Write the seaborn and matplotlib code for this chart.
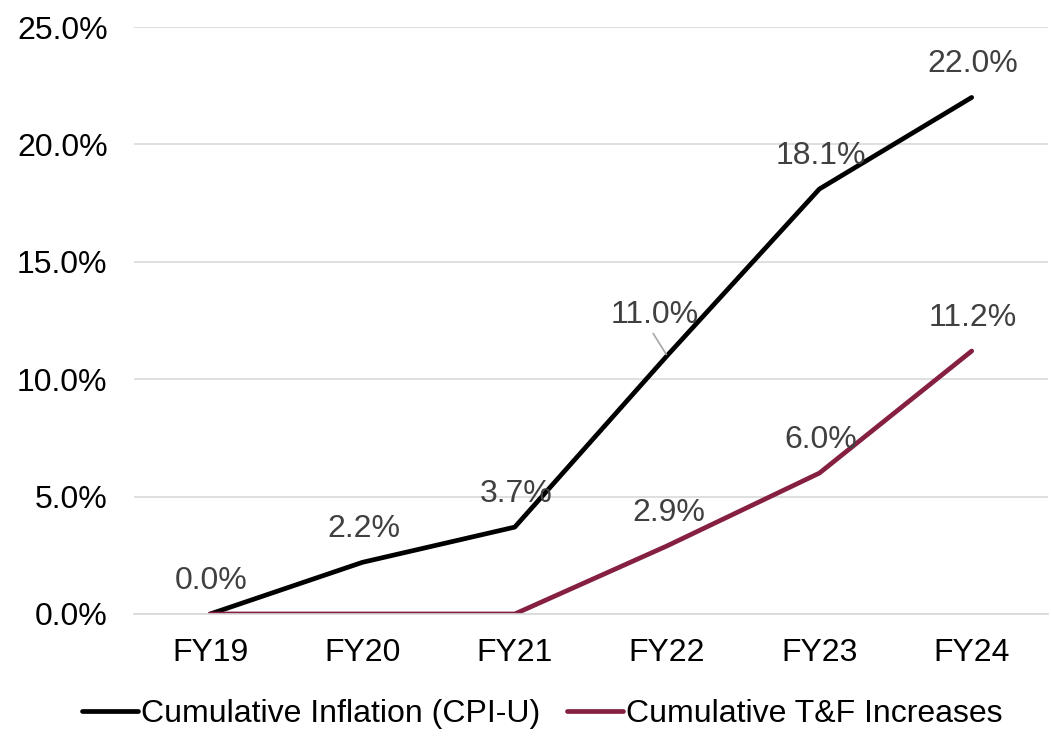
import matplotlib
matplotlib.use("Agg")
import matplotlib.pyplot as plt
import seaborn as sns
import pandas as pd
from matplotlib.ticker import FuncFormatter

years = ["FY19", "FY20", "FY21", "FY22", "FY23", "FY24"]
cpi = [0.0, 2.2, 3.7, 11.0, 18.1, 22.0]
tf = [0.0, 0.0, 0.0, 2.9, 6.0, 11.2]
cpi_name = "Cumulative Inflation (CPI-U)"
tf_name = "Cumulative T&F Increases"
cpi_labels = ["0.0%", "2.2%", "3.7%", "11.0%", "18.1%", "22.0%"]
tf_labels = [None, None, None, "2.9%", "6.0%", "11.2%"]

sns.set_theme(style="white")
plt.rcParams["font.family"] = ["Liberation Sans", "DejaVu Sans"]

df = pd.DataFrame({
    "Year": years * 2,
    "Value": cpi + tf,
    "Series": [cpi_name] * len(years) + [tf_name] * len(years),
})

FS = 23
fig = plt.figure(figsize=(10.51, 7.36), dpi=100)
ax = fig.add_axes([0.1275, 0.1658, 0.8695, 0.7975])

palette = {cpi_name: "#000000", tf_name: "#862041"}
sns.lineplot(data=df, x="Year", y="Value", hue="Series", palette=palette,
             linewidth=3.4, ax=ax, sort=False, legend=True)

ax.set_xlim(-0.5, len(years) - 0.5)
ax.set_ylim(0, 25)
ax.set_yticks([0, 5, 10, 15, 20, 25])
ax.yaxis.set_major_formatter(FuncFormatter(lambda v, p: f"{v:.1f}%"))
ax.grid(axis="y", color="#D9D9D9", linewidth=1.2)
ax.set_axisbelow(True)
for s in ["top", "right", "left"]:
    ax.spines[s].set_visible(False)
ax.spines["bottom"].set_color("#D9D9D9")
ax.spines["bottom"].set_linewidth(1.2)
ax.tick_params(axis="both", length=0, labelsize=FS, colors="#000000")
ax.tick_params(axis="y", pad=19)
ax.tick_params(axis="x", pad=17)
ax.set_xlabel("")
ax.set_ylabel("")

label_color = "#404040"
for i, (v, lab) in enumerate(zip(cpi, cpi_labels)):
    if i == 3:
        ax.annotate(lab, xy=(i, v), xytext=(-9, 29), textcoords="offset points",
                    ha="center", va="center", fontsize=FS, color=label_color)
        ax.annotate("", xy=(i, v), xytext=(-10, 16), textcoords="offset points",
                    arrowprops=dict(arrowstyle="-", color="#A6A6A6", lw=1.2,
                                    shrinkA=0, shrinkB=1))
    else:
        ax.annotate(lab, xy=(i, v), xytext=(1, 24), textcoords="offset points",
                    ha="center", va="center", fontsize=FS, color=label_color)
for i, (v, lab) in enumerate(zip(tf, tf_labels)):
    if lab:
        ax.annotate(lab, xy=(i, v), xytext=(1, 24), textcoords="offset points",
                    ha="center", va="center", fontsize=FS, color=label_color)

handles, labels = ax.get_legend_handles_labels()
ax.get_legend().remove()
leg = fig.legend(handles, labels, loc="center", bbox_to_anchor=(0.516, 0.030),
                 ncol=2, frameon=False, fontsize=FS, handlelength=1.75,
                 handletextpad=0.1, columnspacing=0.85)
for line in leg.get_lines():
    line.set_linewidth(3.4)
for t in leg.get_texts():
    t.set_color("#000000")

fig.savefig("out.png", dpi=100)
